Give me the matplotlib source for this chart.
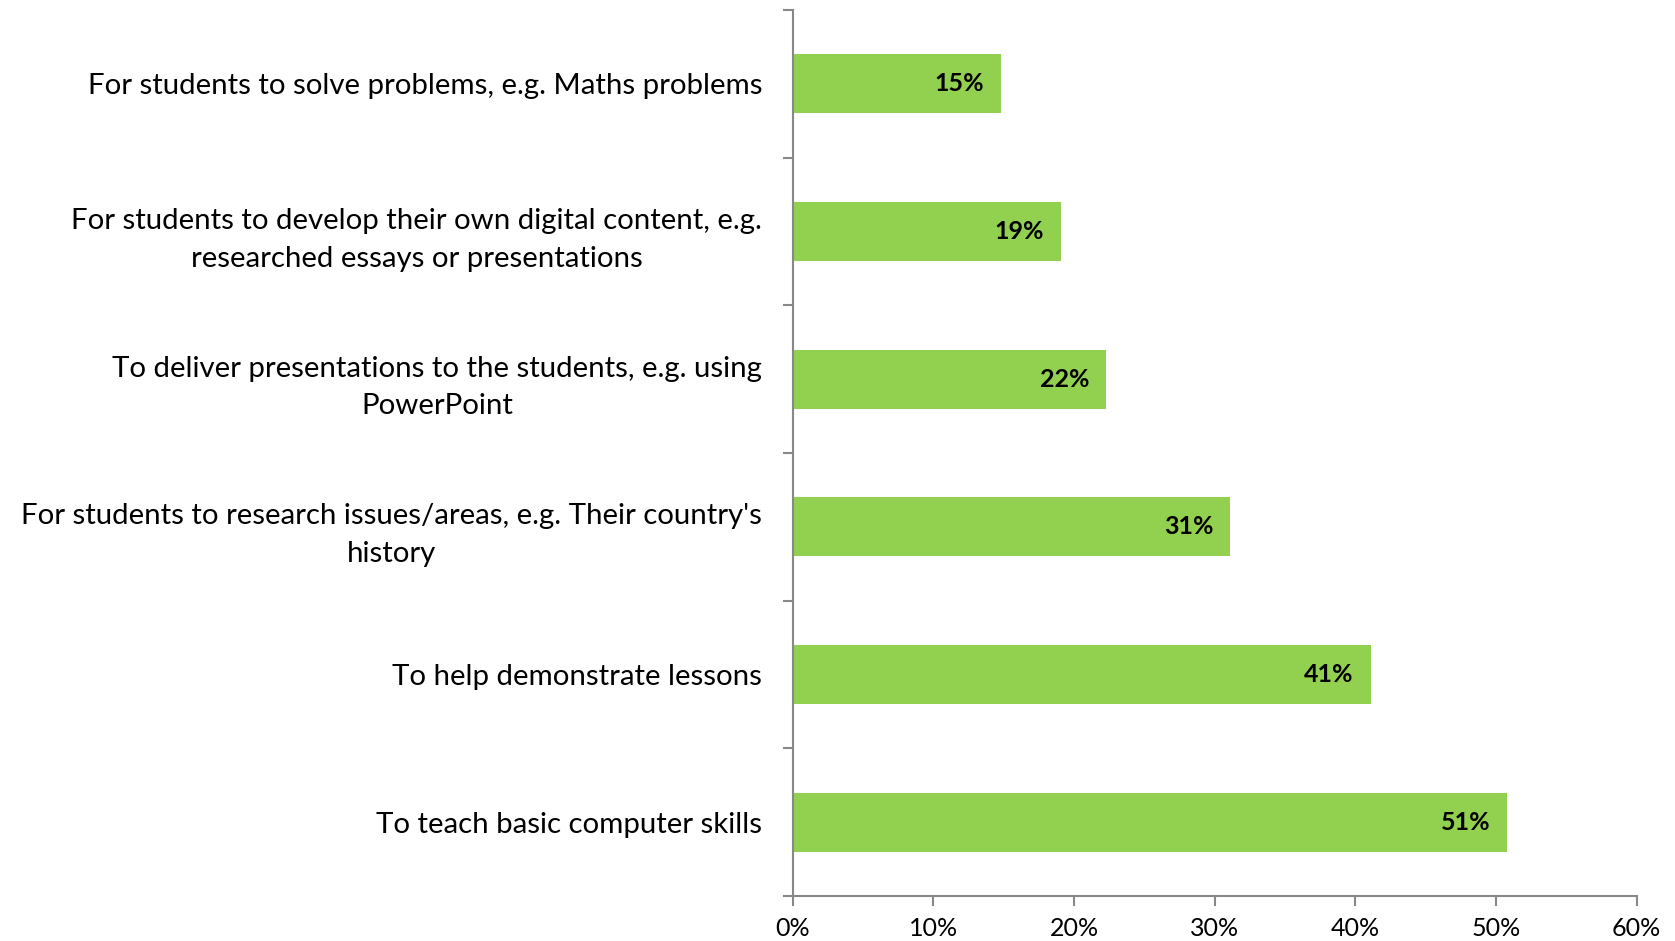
import matplotlib.pyplot as plt
from matplotlib.ticker import FixedLocator, PercentFormatter

plt.rcParams['font.family'] = ['Lato', 'DejaVu Sans']

# Uses of ICT in the classroom, listed top to bottom
uses = [
    "For students to solve problems, e.g. Maths problems",
    "For students to develop their own digital content, e.g.\nresearched essays or presentations",
    "To deliver presentations to the students, e.g. using\nPowerPoint",
    "For students to research issues/areas, e.g. Their country's\nhistory",
    "To help demonstrate lessons",
    "To teach basic computer skills",
]
shares = [14.8, 19.1, 22.3, 31.1, 41.1, 50.8]

bar_color = "#92D050"
axis_grey = "#888888"

fig = plt.figure(figsize=(16.75, 9.41), dpi=100)
ax = fig.add_axes([0.4733, 0.0478, 0.5038, 0.9416])

ypos = list(range(len(uses)))
ax.barh(ypos, shares, height=0.4, color=bar_color)

for y, v in zip(ypos, shares):
    ax.annotate(f"{v:.0f}%", xy=(v, y), xytext=(-17, 0), textcoords="offset pixels",
                ha="right", va="center", fontsize=18, fontweight="bold", color="black")

ax.set_xlim(0, 60)
ax.set_ylim(len(uses) - 0.5, -0.5)
ax.set_xticks(range(0, 61, 10))
ax.xaxis.set_major_formatter(PercentFormatter(decimals=0))

ax.set_yticks(ypos)
ax.set_yticklabels(uses, fontsize=21.2, linespacing=1.55)
for t in ax.get_yticklabels():
    t.set_multialignment("center")
ax.yaxis.set_minor_locator(FixedLocator([i - 0.5 for i in range(len(uses) + 1)]))
ax.tick_params(axis="y", which="major", length=0, pad=22)
ax.tick_params(axis="y", which="minor", length=7, width=1.5, color=axis_grey, direction="out")
ax.tick_params(axis="x", length=7, width=1.5, color=axis_grey, direction="out", labelsize=18, pad=8)

for side in ("top", "right"):
    ax.spines[side].set_visible(False)
for side in ("left", "bottom"):
    ax.spines[side].set_color(axis_grey)
    ax.spines[side].set_linewidth(1.5)

fig.savefig("out.png", dpi=100)
